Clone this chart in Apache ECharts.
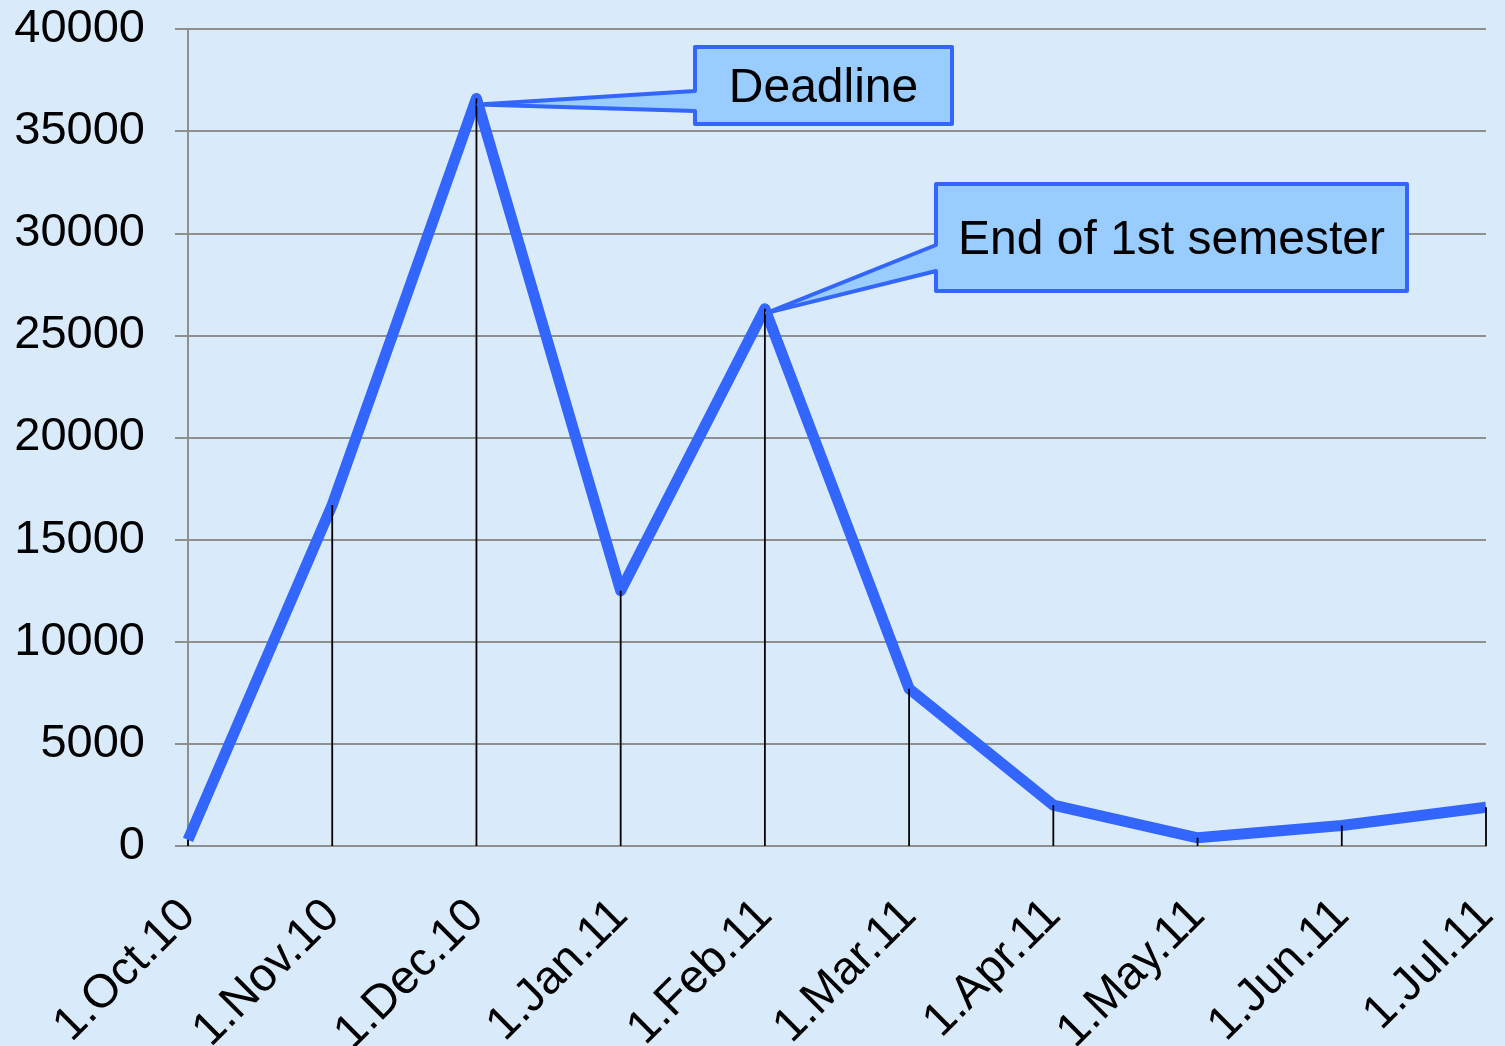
<!DOCTYPE html>
<html>
<head>
<meta charset="utf-8">
<script src="https://cdn.jsdelivr.net/npm/echarts@6/dist/echarts.min.js"></script>
<style>
  html, body { margin: 0; padding: 0; background: #d9eafa; }
  #main { width: 1505px; height: 1046px; }
</style>
</head>
<body>
<div id="main"></div>
<script>
var months = ['1.Oct.10', '1.Nov.10', '1.Dec.10', '1.Jan.11', '1.Feb.11', '1.Mar.11', '1.Apr.11', '1.May.11', '1.Jun.11', '1.Jul.11'];
var counts = [300, 16700, 36600, 12500, 26300, 7700, 2000, 400, 1000, 1900];
var yTicks = { min: 0, max: 40000, step: 5000 };
var notes = [
  { text: 'Deadline', at: 2 },
  { text: 'End of 1st semester', at: 4 }
];

var font = 'Liberation Sans, Arial, sans-serif';
var chart = echarts.init(document.getElementById('main'));

chart.setOption({
  backgroundColor: '#d9eafa',
  animation: false,
  grid: { left: 188, right: 19, top: 29, bottom: 200, outerBoundsMode: 'none' },
  xAxis: {
    type: 'category',
    data: months,
    boundaryGap: false,
    axisLine: { lineStyle: { color: '#8f8f8f', width: 2 } },
    axisTick: { show: false },
    axisLabel: { rotate: 45, fontSize: 47, color: '#000', fontFamily: font, margin: 62, interval: 0 }
  },
  yAxis: {
    type: 'value',
    min: yTicks.min,
    max: yTicks.max,
    interval: yTicks.step,
    axisLine: { show: true, lineStyle: { color: '#8f8f8f', width: 2 } },
    axisTick: { show: true, length: 13, lineStyle: { color: '#8f8f8f', width: 2 } },
    axisLabel: { fontSize: 47, color: '#000', fontFamily: font, margin: 43, formatter: function (v) { return String(v); } },
    splitLine: { lineStyle: { color: '#8f8f8f', width: 2 } }
  },
  series: [
    {
      type: 'line',
      data: counts,
      symbol: 'none',
      z: 2,
      lineStyle: { color: '#3366ff', width: 11, join: 'round' }
    },
    {
      // thin drop lines from each point down to the axis
      type: 'bar',
      data: counts,
      barWidth: 1.8,
      z: 3,
      itemStyle: { color: '#000' }
    }
  ]
});

// callouts: boxes are placed in pixels, tips follow the data points
function callout(box, attach, tip, label) {
  var pts = [
    [box[0], box[1]], [box[2], box[1]], [box[2], box[3]], [box[0], box[3]],
    [box[0], attach[1]], tip, [box[0], attach[0]]
  ];
  return [
    {
      type: 'polygon',
      shape: { points: pts },
      style: { fill: '#99ccff', stroke: '#3366ff', lineWidth: 4, lineJoin: 'round' },
      z: 10
    },
    {
      type: 'text',
      x: (box[0] + box[2]) / 2,
      y: (box[1] + box[3]) / 2 + 3,
      style: { text: label, font: '48px ' + font, fill: '#000', align: 'center', verticalAlign: 'middle' },
      z: 11
    }
  ];
}

var tip0 = chart.convertToPixel({ seriesIndex: 0 }, [notes[0].at, counts[notes[0].at]]);
var tip1 = chart.convertToPixel({ seriesIndex: 0 }, [notes[1].at, counts[notes[1].at]]);

chart.setOption({
  graphic: [].concat(
    callout([695, 47, 952, 124], [91, 111], [tip0[0] + 2, tip0[1] + 6], notes[0].text),
    callout([936, 184, 1407, 291], [245, 271], [tip1[0] + 2, tip1[1] + 4], notes[1].text)
  )
});
</script>
</body>
</html>
